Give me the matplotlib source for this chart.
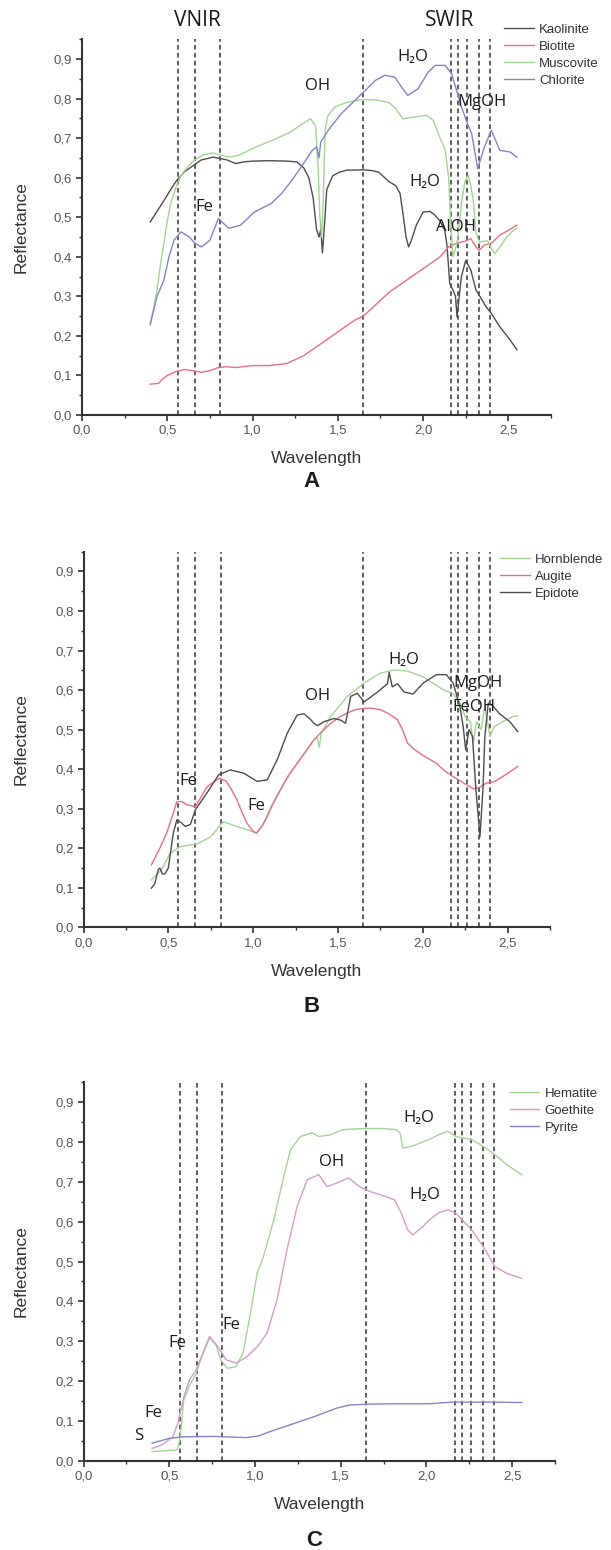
import matplotlib
matplotlib.use("Agg")
import matplotlib.pyplot as plt
from matplotlib.ticker import MultipleLocator, FuncFormatter
from matplotlib.lines import Line2D

# ---------------- data ----------------
bands = [0.56, 0.66, 0.81, 1.65, 2.165, 2.205, 2.26, 2.33, 2.395]

# Panel A
kaolinite_x = [0.40,0.44,0.47,0.52,0.55,0.60,0.65,0.70,0.77,0.85,0.90,0.95,1.00,1.10,1.20,1.26,1.30,1.33,1.355,1.375,1.39,1.40,1.41,1.42,1.435,1.47,1.51,1.55,1.65,1.70,1.74,1.80,1.84,1.865,1.885,1.90,1.915,1.93,1.96,2.00,2.04,2.07,2.10,2.127,2.14,2.156,2.175,2.19,2.199,2.224,2.25,2.28,2.31,2.34,2.37,2.40,2.45,2.51,2.55]
kaolinite_y = [0.488,0.515,0.535,0.57,0.59,0.615,0.63,0.645,0.652,0.645,0.636,0.64,0.642,0.643,0.642,0.64,0.625,0.60,0.55,0.47,0.45,0.47,0.41,0.47,0.57,0.605,0.614,0.619,0.62,0.618,0.614,0.59,0.58,0.56,0.50,0.45,0.425,0.44,0.48,0.513,0.515,0.505,0.49,0.467,0.43,0.333,0.316,0.30,0.248,0.349,0.391,0.366,0.316,0.295,0.273,0.257,0.223,0.19,0.165]

biotite_x = [0.40,0.45,0.47,0.50,0.55,0.60,0.65,0.70,0.75,0.80,0.85,0.90,1.00,1.10,1.20,1.25,1.30,1.35,1.40,1.50,1.60,1.65,1.70,1.80,1.90,2.00,2.10,2.15,2.20,2.25,2.28,2.31,2.33,2.36,2.40,2.45,2.50,2.55]
biotite_y = [0.078,0.08,0.09,0.10,0.11,0.115,0.112,0.108,0.112,0.12,0.122,0.12,0.125,0.125,0.13,0.14,0.15,0.165,0.18,0.21,0.24,0.25,0.27,0.31,0.34,0.37,0.40,0.425,0.435,0.44,0.446,0.425,0.417,0.43,0.434,0.455,0.467,0.48]

muscovite_x = [0.40,0.42,0.44,0.46,0.48,0.50,0.52,0.55,0.58,0.62,0.66,0.71,0.76,0.81,0.86,0.92,1.02,1.12,1.22,1.30,1.34,1.37,1.385,1.395,1.405,1.415,1.425,1.44,1.48,1.55,1.63,1.72,1.80,1.84,1.88,1.94,2.02,2.06,2.10,2.13,2.15,2.16,2.175,2.19,2.205,2.225,2.245,2.265,2.28,2.295,2.31,2.33,2.36,2.38,2.40,2.42,2.45,2.49,2.53,2.55]
muscovite_y = [0.232,0.27,0.316,0.38,0.434,0.49,0.535,0.575,0.605,0.628,0.645,0.657,0.663,0.658,0.652,0.657,0.678,0.695,0.715,0.738,0.749,0.73,0.62,0.50,0.45,0.55,0.72,0.755,0.778,0.79,0.797,0.797,0.79,0.775,0.749,0.753,0.758,0.745,0.70,0.67,0.60,0.50,0.40,0.42,0.45,0.535,0.59,0.606,0.58,0.54,0.46,0.437,0.44,0.44,0.421,0.408,0.425,0.45,0.467,0.472]

chlorite_x = [0.40,0.44,0.48,0.51,0.54,0.58,0.63,0.66,0.70,0.75,0.80,0.86,0.93,1.01,1.11,1.17,1.23,1.29,1.35,1.376,1.389,1.40,1.444,1.52,1.64,1.72,1.776,1.835,1.874,1.91,1.97,2.03,2.07,2.13,2.167,2.226,2.253,2.285,2.32,2.36,2.40,2.45,2.51,2.55]
chlorite_y = [0.228,0.30,0.341,0.40,0.442,0.463,0.45,0.435,0.425,0.442,0.497,0.472,0.48,0.513,0.535,0.56,0.593,0.63,0.669,0.678,0.65,0.69,0.72,0.762,0.812,0.846,0.859,0.854,0.829,0.808,0.825,0.867,0.884,0.884,0.863,0.778,0.745,0.711,0.623,0.678,0.72,0.669,0.665,0.652]

# Panel B
hornblende_x = [0.40,0.46,0.51,0.57,0.62,0.67,0.75,0.80,0.826,0.87,0.905,0.964,1.02,1.06,1.10,1.161,1.21,1.26,1.31,1.358,1.377,1.39,1.40,1.457,1.555,1.654,1.752,1.831,1.91,2.00,2.12,2.18,2.22,2.25,2.28,2.297,2.317,2.343,2.366,2.396,2.42,2.47,2.53,2.56]
hornblende_y = [0.12,0.145,0.187,0.204,0.208,0.211,0.229,0.255,0.267,0.26,0.255,0.247,0.238,0.26,0.30,0.348,0.385,0.415,0.445,0.474,0.48,0.455,0.49,0.533,0.584,0.618,0.643,0.651,0.648,0.634,0.601,0.59,0.567,0.533,0.52,0.466,0.52,0.50,0.558,0.483,0.507,0.52,0.533,0.535]

augite_x = [0.40,0.45,0.49,0.53,0.55,0.58,0.61,0.66,0.70,0.73,0.80,0.84,0.87,0.905,0.935,0.964,1.00,1.02,1.05,1.083,1.12,1.161,1.21,1.26,1.31,1.358,1.41,1.457,1.51,1.555,1.60,1.654,1.70,1.752,1.80,1.851,1.88,1.91,1.95,2.00,2.08,2.13,2.18,2.24,2.30,2.34,2.376,2.42,2.47,2.52,2.56]
augite_y = [0.158,0.20,0.238,0.29,0.318,0.318,0.31,0.305,0.335,0.356,0.377,0.37,0.35,0.322,0.29,0.263,0.243,0.238,0.255,0.28,0.315,0.348,0.385,0.415,0.445,0.474,0.497,0.516,0.532,0.542,0.55,0.554,0.554,0.55,0.54,0.525,0.50,0.466,0.45,0.435,0.415,0.395,0.381,0.365,0.35,0.355,0.365,0.368,0.381,0.395,0.407]

epidote_x = [0.40,0.42,0.44,0.45,0.465,0.48,0.50,0.53,0.551,0.575,0.60,0.63,0.659,0.728,0.797,0.866,0.944,1.024,1.083,1.142,1.201,1.26,1.30,1.34,1.358,1.38,1.417,1.476,1.516,1.545,1.575,1.614,1.654,1.733,1.792,1.802,1.82,1.851,1.89,1.943,2.003,2.08,2.139,2.179,2.219,2.238,2.253,2.273,2.293,2.313,2.337,2.355,2.366,2.386,2.413,2.453,2.513,2.56]
epidote_y = [0.099,0.11,0.145,0.15,0.135,0.135,0.15,0.24,0.272,0.265,0.255,0.26,0.297,0.34,0.386,0.398,0.39,0.369,0.373,0.424,0.491,0.537,0.54,0.525,0.516,0.51,0.52,0.528,0.524,0.516,0.584,0.592,0.57,0.595,0.616,0.645,0.608,0.616,0.595,0.59,0.618,0.639,0.639,0.618,0.558,0.508,0.449,0.50,0.483,0.35,0.229,0.35,0.483,0.567,0.56,0.54,0.52,0.495]

# Panel C
hematite_x = [0.40,0.48,0.546,0.556,0.566,0.585,0.615,0.653,0.69,0.735,0.774,0.80,0.84,0.889,0.93,0.974,1.013,1.05,1.11,1.168,1.207,1.265,1.333,1.372,1.44,1.512,1.59,1.67,1.75,1.823,1.846,1.862,1.92,2.018,2.08,2.125,2.17,2.263,2.332,2.40,2.47,2.555]
hematite_y = [0.023,0.025,0.027,0.04,0.069,0.153,0.186,0.215,0.261,0.308,0.29,0.253,0.232,0.236,0.27,0.37,0.471,0.513,0.605,0.714,0.78,0.814,0.823,0.814,0.818,0.831,0.833,0.834,0.834,0.831,0.823,0.785,0.79,0.807,0.82,0.827,0.814,0.806,0.789,0.768,0.743,0.718]

goethite_x = [0.40,0.46,0.521,0.55,0.585,0.618,0.657,0.696,0.735,0.784,0.833,0.89,0.95,1.013,1.07,1.129,1.187,1.246,1.304,1.372,1.42,1.478,1.545,1.61,1.67,1.765,1.813,1.853,1.89,1.92,1.98,2.018,2.07,2.125,2.17,2.263,2.332,2.40,2.47,2.555]
goethite_y = [0.031,0.04,0.06,0.094,0.16,0.203,0.228,0.27,0.312,0.286,0.253,0.245,0.26,0.286,0.32,0.404,0.53,0.638,0.705,0.718,0.688,0.697,0.71,0.688,0.676,0.663,0.655,0.622,0.58,0.567,0.588,0.605,0.622,0.63,0.622,0.58,0.537,0.487,0.47,0.458]

pyrite_x = [0.40,0.50,0.585,0.76,0.95,1.02,1.087,1.204,1.341,1.477,1.555,1.67,1.826,2.02,2.15,2.30,2.40,2.557]
pyrite_y = [0.044,0.056,0.06,0.061,0.058,0.062,0.073,0.09,0.11,0.132,0.14,0.142,0.143,0.143,0.147,0.147,0.147,0.146]

# ---------------- style ----------------
GRAY = "#4d4d4d"
RED = "#e27088"
GREEN = "#a3d494"
BLUE = "#8484c4"
PURPLE = "#d49ccc"
LAB = ["Open Sans", "DejaVu Sans"]
SANS = ["Liberation Sans", "DejaVu Sans"]

fig = plt.figure(figsize=(6.11, 15.5), dpi=100)

W = 611.0
H = 1550.0

def make_axes(left_px, right_px, top_px, bottom_px):
    return fig.add_axes([left_px / W, 1 - bottom_px / H,
                         (right_px - left_px) / W, (bottom_px - top_px) / H])

def style(ax):
    ax.set_xlim(0, 2.75)
    ax.set_ylim(0, 0.95)
    for s in ["top", "right"]:
        ax.spines[s].set_visible(False)
    for s in ["left", "bottom"]:
        ax.spines[s].set_color("#333333")
        ax.spines[s].set_linewidth(1.5)
    ax.xaxis.set_major_locator(MultipleLocator(0.5))
    ax.xaxis.set_minor_locator(MultipleLocator(0.25))
    ax.yaxis.set_major_locator(MultipleLocator(0.1))
    ax.yaxis.set_minor_locator(MultipleLocator(0.05))
    fmt = FuncFormatter(lambda v, p: ("%.1f" % v).replace(".", ","))
    ax.xaxis.set_major_formatter(fmt)
    ax.yaxis.set_major_formatter(fmt)
    ax.tick_params(which="major", direction="out", length=4, width=1.2,
                   color="#333333", labelsize=9.5, labelcolor="#555555", pad=3)
    ax.tick_params(which="minor", direction="out", length=2.5, width=1.0,
                   color="#333333")
    for lab in ax.get_xticklabels() + ax.get_yticklabels():
        lab.set_family(SANS)
    for b in bands:
        ax.plot([b, b], [0, 0.95], color="#333333", lw=1.1,
                dashes=(3, 2.2), zorder=1)

def label(ax, x, y, s, size=12):
    ax.text(x, y, s, ha="center", va="center", fontsize=size,
            family=LAB, color="#1a1a1a", clip_on=False, zorder=5)

def legend(ax, handles, x_px, top_px):
    leg = ax.legend(handles=handles, loc="upper left",
                    bbox_to_anchor=(x_px / W, 1 - top_px / H),
                    bbox_transform=fig.transFigure, frameon=False,
                    prop={"family": SANS, "size": 9.5},
                    handlelength=2.25, handletextpad=0.4, labelspacing=0.36,
                    borderpad=0, borderaxespad=0)
    for t in leg.get_texts():
        t.set_color("#333333")

def axis_labels(ax, xlab_y_px, letter, letter_y_px):
    pos = ax.get_position()
    cx = pos.x0 + pos.width / 2
    fig.text(cx, 1 - xlab_y_px / H, "Wavelength", ha="center", va="center",
             fontsize=12.5, family=SANS, color="#333333")
    fig.text(cx - 0.008, 1 - letter_y_px / H, letter, ha="center", va="center",
             fontsize=16, fontweight="bold", family=SANS, color="#1a1a1a")
    fig.text(21 / W, pos.y0 + pos.height / 2, "Reflectance", rotation=90,
             ha="center", va="center", fontsize=12.5, family=SANS, color="#333333")

# ---------------- Panel A ----------------
axA = make_axes(82, 551, 39.3, 415)
style(axA)
axA.plot(kaolinite_x, kaolinite_y, color=GRAY, lw=1.0, label="Kaolinite", zorder=3)
axA.plot(biotite_x, biotite_y, color=RED, lw=1.0, label="Biotite", zorder=3)
axA.plot(muscovite_x, muscovite_y, color=GREEN, lw=1.0, label="Muscovite", zorder=3)
axA.plot(chlorite_x, chlorite_y, color=BLUE, lw=1.0, label="Chlorite", zorder=3)
legend(axA, [Line2D([], [], color=GRAY, lw=1.0, label="Kaolinite"),
             Line2D([], [], color=RED, lw=1.0, label="Biotite"),
             Line2D([], [], color=GREEN, lw=1.0, label="Muscovite"),
             Line2D([], [], color=BLUE, lw=1.0, label="Chlorite")], 504, 23.5)
label(axA, 0.678, 0.997, "VNIR", 15)
label(axA, 2.153, 0.997, "SWIR", 15)
label(axA, 1.38, 0.833, "OH")
label(axA, 1.94, 0.905, "H₂O")
label(axA, 0.718, 0.526, "Fe")
label(axA, 2.01, 0.589, "H₂O")
label(axA, 2.345, 0.791, "MgOH")
label(axA, 2.195, 0.475, "AlOH")
axis_labels(axA, 458.3, "A", 481.7)

# ---------------- Panel B ----------------
axB = make_axes(83.5, 550, 551.7, 927.3)
style(axB)
axB.plot(hornblende_x, hornblende_y, color=GREEN, lw=1.0, zorder=3)
axB.plot(augite_x, augite_y, color=RED, lw=1.0, zorder=3)
axB.plot(epidote_x, epidote_y, color=GRAY, lw=1.0, zorder=3)
legend(axB, [Line2D([], [], color=GREEN, lw=1.0, label="Hornblende"),
             Line2D([], [], color=RED, lw=1.0, label="Augite"),
             Line2D([], [], color=GRAY, lw=1.0, label="Epidote")], 500, 553.5)
label(axB, 1.89, 0.677, "H₂O")
label(axB, 1.38, 0.584, "OH")
label(axB, 2.326, 0.618, "MgOH")
label(axB, 2.303, 0.558, "FeOH")
label(axB, 0.615, 0.369, "Fe")
label(axB, 1.018, 0.308, "Fe")
axis_labels(axB, 971.7, "B", 1006.7)

# ---------------- Panel C ----------------
axC = make_axes(83.5, 555, 1082.3, 1460.7)
style(axC)
axC.plot(hematite_x, hematite_y, color=GREEN, lw=1.0, zorder=3)
axC.plot(goethite_x, goethite_y, color=PURPLE, lw=1.0, zorder=3)
axC.plot(pyrite_x, pyrite_y, color=BLUE, lw=1.0, zorder=3)
legend(axC, [Line2D([], [], color=GREEN, lw=1.0, label="Hematite"),
             Line2D([], [], color=PURPLE, lw=1.0, label="Goethite"),
             Line2D([], [], color=BLUE, lw=1.0, label="Pyrite")], 509.8, 1087.5)
label(axC, 1.957, 0.86, "H₂O")
label(axC, 1.446, 0.749, "OH")
label(axC, 1.991, 0.666, "H₂O")
label(axC, 0.548, 0.296, "Fe")
label(axC, 0.861, 0.341, "Fe")
label(axC, 0.41, 0.119, "Fe")
label(axC, 0.32, 0.062, "S")
axis_labels(axC, 1504.3, "C", 1540)

fig.savefig("out.png", dpi=100, facecolor="white")
